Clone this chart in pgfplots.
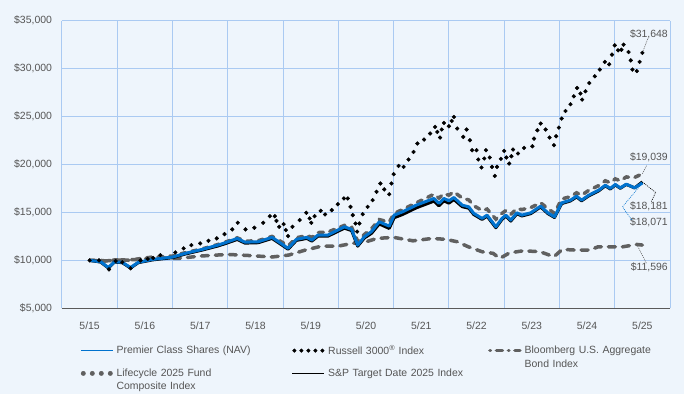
\documentclass[border=0pt]{standalone}
\usepackage{pgfplots}
\pgfplotsset{compat=1.18}
\usepackage{fontspec}
\setmainfont{Liberation Sans}
\definecolor{bgc}{RGB}{238,245,252}
\definecolor{gridc}{RGB}{170,202,242}
\definecolor{axc}{RGB}{90,90,90}
\definecolor{txtc}{RGB}{85,85,85}
\definecolor{navblue}{RGB}{0,114,206}
\definecolor{dgray}{RGB}{96,96,96}
\begin{document}
\begin{tikzpicture}
\fill[bgc] (0bp,0bp) rectangle (684bp,394bp);
\begin{axis}[
  at={(62bp,85.7bp)}, anchor=south west,
  scale only axis, width=608bp, height=287.6bp,
  xmin=-0.5, xmax=10.5, ymin=5000, ymax=35000,
  axis x line=bottom, axis y line=left,
  x axis line style={draw=axc, line width=1bp, -},
  y axis line style={draw=gridc, line width=1bp, -},
  xtick={0,...,10},
  xticklabels={5/15,5/16,5/17,5/18,5/19,5/20,5/21,5/22,5/23,5/24,5/25},
  minor xtick={-0.5,0.5,...,10.5},
  xminorgrids, ymajorgrids,
  minor grid style={draw=gridc, line width=1bp},
  major grid style={draw=gridc, line width=1bp},
  ytick={5000,10000,...,35000},
  scaled y ticks=false,
  yticklabels={{\$5,000},{\$10,000},{\$15,000},{\$20,000},{\$25,000},{\$30,000},{\$35,000}},
  major tick length=0pt, minor tick length=0pt,
  tick label style={font=\fontsize{10.5}{12}\selectfont, text=txtc},
  xticklabel style={yshift=-10bp},
  yticklabel style={xshift=-6.5bp},
  clip=false,
  legend columns=3,
  legend cell align=left,
  legend style={at={(0,0)}, anchor=north west, xshift=18bp, yshift=-37bp,
    draw=none, fill=none, inner sep=0pt, outer sep=0pt,
    font=\fontsize{10.5}{13.5}\selectfont, text=txtc,
    nodes={text width=157bp, align=left, inner xsep=3bp, inner ysep=0pt},
    /tikz/column 2/.style={nodes={text width=172bp}},
    row sep=13bp, column sep=0pt},
]
% Bloomberg U.S. Aggregate Bond Index
\addplot[forget plot, dgray, line width=3.5bp, line cap=round, dash pattern=on 7bp off 7bp] coordinates {
(0,10000)(0.3,9950)(0.6,10050)(0.9,10100)(1.1,10250)(1.6,10200)(2.0,10450)(2.5,10620)
(2.9,10500)(3.3,10350)(3.6,10550)(3.9,11070)(4.2,11490)(4.5,11490)(4.75,11770)(5.0,11940)
(5.2,12290)(5.5,12400)(5.85,12040)(6.2,12290)(6.45,12190)(6.65,11940)(6.85,11420)(7.1,10900)
(7.3,10730)(7.42,10200)(7.6,10790)(7.85,11000)(8.15,10900)(8.4,10375)(8.55,11145)(8.8,11070)
(9.05,11070)(9.2,11420)(9.4,11420)(9.65,11420)(9.9,11660)(10.0,11596)};
% Lifecycle 2025 Fund Composite Index
\addplot[forget plot, dgray, line width=3.5bp, line cap=round, dash pattern=on 5bp off 6.5bp] coordinates {
(0,10000)(0.20,10000)(0.34,9900)(0.45,10050)(0.59,10050)(0.74,10000)(0.88,10150)(1.14,10350)
(1.50,10450)(1.73,10800)(2.04,11200)(2.32,11650)(2.45,11900)(2.67,12350)(2.81,12000)(3.05,12050)
(3.30,12500)(3.48,11900)(3.59,11500)(3.74,12350)(3.93,12600)(4.02,12400)(4.13,12900)(4.31,12950)
(4.61,13650)(4.74,13450)(4.85,12000)(4.97,12700)(5.10,13300)(5.24,14250)(5.42,14000)(5.51,14900)
(5.66,15300)(5.91,16000)(6.23,16900)(6.32,16500)(6.41,16950)(6.50,16800)(6.59,17150)(6.74,16500)
(6.86,16300)(6.95,15700)(7.10,15200)(7.19,15350)(7.35,14300)(7.46,14900)(7.53,15200)(7.62,14800)
(7.73,15400)(7.82,15300)(7.98,15500)(8.16,16000)(8.29,15400)(8.41,14900)(8.54,16400)(8.70,16650)
(8.81,17050)(8.90,16800)(9.03,17300)(9.21,17800)(9.33,18300)(9.42,18100)(9.51,18500)(9.60,18300)
(9.71,18700)(9.86,18650)(10.0,19039)};
% Russell 3000 Index
\addplot[forget plot, only marks, mark=*, mark size=1.9bp, black] coordinates {
(0,10000)(0.17,10000)(0.35,9060)(0.47,9930)(0.59,9800)(0.74,9170)(0.92,10000)(1.05,10150)(1.15,10250)
(1.28,10550)(1.55,10830)(1.70,11250)(1.84,11590)(2.0,11770)(2.15,12040)(2.30,12290)(2.44,12740)
(2.58,13230)(2.68,13920)(2.82,13230)(2.98,13400)(3.14,13920)(3.26,14610)(3.35,14610)(3.38,14120)
(3.43,13500)(3.51,13780)(3.55,13160)(3.59,12530)(3.67,13500)(3.80,14200)(3.92,14960)(3.98,14375)
(4.01,13920)(4.07,14610)(4.18,15170)(4.26,14790)(4.38,15240)(4.49,15860)(4.60,16460)(4.67,16460)
(4.72,15580)(4.76,14720)(4.81,13850)(4.84,13000)(4.88,13850)(4.94,14820)(5.03,15580)(5.12,16280)
(5.19,17150)(5.26,18020)(5.33,17400)(5.42,16900)(5.46,18020)(5.50,18990)(5.59,19850)(5.68,19750)
(5.77,20520)(5.86,21310)(5.93,22190)(6.05,22600)(6.16,23230)(6.25,23920)(6.29,23400)(6.34,22810)
(6.37,23650)(6.41,24330)(6.50,23990)(6.55,24540)(6.59,24960)(6.65,23750)(6.76,22880)(6.82,23650)
(6.88,22530)(6.92,21490)(7.00,21490)(7.03,20520)(7.09,19690)(7.14,20625)(7.17,21490)(7.24,20730)
(7.28,19750)(7.33,18810)(7.37,19750)(7.44,20590)(7.50,21420)(7.54,20730)(7.59,20100)(7.63,20860)
(7.66,21560)(7.75,21150)(7.86,21730)(8.01,21900)(8.04,22700)(8.10,23570)(8.16,24270)(8.25,23650)
(8.32,22810)(8.40,22010)(8.44,22950)(8.49,23850)(8.54,24790)(8.61,25580)(8.70,26280)(8.76,27110)
(8.82,27980)(8.88,27400)(8.91,26770)(8.97,27640)(9.04,28500)(9.14,29200)(9.23,29900)(9.32,30700)
(9.40,30450)(9.45,31460)(9.50,32430)(9.56,31910)(9.62,31970)(9.66,32500)(9.75,31730)(9.79,30860)
(9.82,29900)(9.90,29750)(9.95,30700)(10.0,31648)};
% S&P Target Date 2025 Index
\addplot[forget plot, black, line width=3bp, line join=round] coordinates {
(0,10000)(0.20,9820)(0.34,9200)(0.45,9820)(0.59,9760)(0.74,9200)(0.88,9760)(1.14,10050)
(1.50,10280)(1.73,10660)(2.04,11080)(2.32,11500)(2.45,11740)(2.67,12180)(2.81,11800)(3.05,11840)
(3.30,12290)(3.48,11600)(3.59,11160)(3.74,12080)(3.93,12290)(4.02,12010)(4.13,12520)(4.31,12520)
(4.61,13360)(4.74,13100)(4.85,11480)(4.97,12330)(5.10,12820)(5.24,13800)(5.42,13330)(5.51,14450)
(5.66,14780)(5.91,15480)(6.23,16180)(6.32,15680)(6.41,16200)(6.50,15970)(6.59,16350)(6.74,15600)
(6.86,15440)(6.95,14780)(7.10,14270)(7.19,14610)(7.35,13400)(7.46,14270)(7.53,14610)(7.62,14100)
(7.73,14860)(7.82,14630)(7.98,14870)(8.16,15570)(8.29,14880)(8.41,14470)(8.54,15920)(8.70,16200)
(8.81,16620)(8.90,16210)(9.03,16730)(9.21,17250)(9.33,17780)(9.42,17440)(9.51,17870)(9.60,17520)
(9.71,17920)(9.86,17560)(10.0,18181)};
% Premier Class Shares (NAV)
\addplot[forget plot, navblue, line width=3bp, line join=round] coordinates {
(0,10000)(0.20,9850)(0.34,9250)(0.45,9850)(0.59,9800)(0.74,9250)(0.88,9800)(1.14,10100)
(1.50,10340)(1.73,10730)(2.04,11150)(2.32,11590)(2.45,11830)(2.67,12290)(2.81,11900)(3.05,11940)
(3.30,12400)(3.48,11700)(3.59,11250)(3.74,12190)(3.93,12400)(4.02,12115)(4.13,12640)(4.31,12640)
(4.61,13500)(4.74,13230)(4.85,11590)(4.97,12460)(5.10,13000)(5.24,14020)(5.42,13570)(5.51,14720)
(5.66,15060)(5.91,15760)(6.23,16460)(6.32,15940)(6.41,16460)(6.50,16210)(6.59,16560)(6.74,15760)
(6.86,15580)(6.95,14900)(7.10,14375)(7.19,14720)(7.35,13500)(7.46,14375)(7.53,14720)(7.62,14200)
(7.73,14960)(7.82,14720)(7.98,14960)(8.16,15660)(8.29,14960)(8.41,14540)(8.54,16000)(8.70,16280)
(8.81,16700)(8.90,16280)(9.03,16800)(9.21,17320)(9.33,17840)(9.42,17500)(9.51,17920)(9.60,17560)
(9.71,17950)(9.86,17560)(10.0,18071)};
% legend
\addlegendimage{legend image code/.code={\draw[navblue, line width=1.6bp] (0bp,0bp) -- (32bp,0bp);}}
\addlegendentry{Premier Class Shares (NAV)}
\addlegendimage{legend image code/.code={\foreach \i in {0,...,4} {\fill[black] (2bp+\i*7bp,0bp) circle (1.8bp);}}}
\addlegendentry{Russell 3000\textsuperscript{®} Index}
\addlegendimage{legend image code/.code={\draw[dgray, line width=3.5bp, line cap=round, dash pattern=on 0.5bp off 6bp on 6bp off 6bp] (2bp,0bp) -- (32bp,0bp);}}
\addlegendentry{Bloomberg U.S. Aggregate\\Bond Index}
\addlegendimage{legend image code/.code={\foreach \i in {0,...,3} {\fill[dgray] (2.5bp+\i*9bp,0bp) circle (2.2bp);}}}
\addlegendentry{Lifecycle 2025 Fund\\Composite Index}
\addlegendimage{legend image code/.code={\draw[black, line width=1.6bp] (0bp,0bp) -- (32bp,0bp);}}
\addlegendentry{S\&P Target Date 2025 Index}
% value labels
\begin{scope}[every node/.style={font=\fontsize{10.5}{12}\selectfont, text=txtc, anchor=east, inner sep=0pt}]
\node at (axis cs:10.464,33573) {\$31,648};
\node at (axis cs:10.464,20729) {\$19,039};
\node at (axis cs:10.464,15656) {\$18,181};
\node at (axis cs:10.464,13958) {\$18,071};
\node at (axis cs:10.464,9229) {\$11,596};
\end{scope}
\draw[dgray, line width=0.6bp, dash pattern=on 1bp off 1bp] (axis cs:10,31648) -- (axis cs:10.10,33156);
\draw[dgray, line width=0.6bp, dash pattern=on 1bp off 1bp] (axis cs:10,19039) -- (axis cs:10.08,19927);
\draw[black, line width=0.6bp, dash pattern=on 1bp off 1bp] (axis cs:10,18181) -- (axis cs:10.24,17083) -- (axis cs:10.16,16104);
\draw[navblue, line width=0.6bp, dash pattern=on 1bp off 1bp] (axis cs:10,18071) -- (axis cs:9.64,15583) -- (axis cs:9.81,14198);
\draw[dgray, line width=0.6bp, dash pattern=on 1bp off 1bp] (axis cs:9.9,11660) -- (axis cs:10.08,9615);
\end{axis}
\pgfresetboundingbox
\useasboundingbox (0bp,0bp) rectangle (684bp,394bp);
\end{tikzpicture}
\end{document}
